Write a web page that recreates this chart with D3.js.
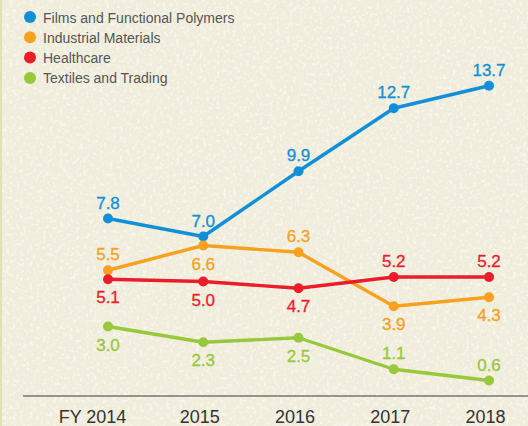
<!DOCTYPE html>
<meta charset="utf-8">
<style>
  body { margin: 0; background: #f0eddc; }
  svg { display: block; font-family: "Liberation Sans", Arial, Helvetica, sans-serif; }
</style>
<body>
<script src="https://d3js.org/d3.v7.min.js"></script>
<script>
var width = 528, height = 426;

// data
var years = ["2014", "2015", "2016", "2017", "2018"];
var tickLabels = ["FY 2014", "2015", "2016", "2017", "2018"];
var seriesNames = ["Films and Functional Polymers", "Industrial Materials", "Healthcare", "Textiles and Trading"];
var films = [7.8, 7.0, 9.9, 12.7, 13.7];
var industrial = [5.5, 6.6, 6.3, 3.9, 4.3];
var healthcare = [5.1, 5.0, 4.7, 5.2, 5.2];
var textiles = [3.0, 2.3, 2.5, 1.1, 0.6];

var colors = ["#1190d8", "#f8a11f", "#ec1d2b", "#98c83b"];
// label above (-1) or below (1) the point
var labelSide = [
  [-1, -1, -1, -1, -1],
  [-1, 1, -1, 1, 1],
  [1, 1, 1, -1, -1],
  [1, 1, 1, -1, -1]
];

var series = [films, industrial, healthcare, textiles].map(function(v, i) {
  return {name: seriesNames[i], values: v, color: colors[i], side: labelSide[i]};
});

var x = d3.scalePoint().domain(years).range([108, 489]);
var y = d3.scaleLinear().domain([0, 14]).range([394, 79]);

var svg = d3.select("body").append("svg")
    .attr("width", width)
    .attr("height", height);

// paper texture
var filt = svg.append("defs").append("filter")
    .attr("id", "paper").attr("x", 0).attr("y", 0).attr("width", "100%").attr("height", "100%");
filt.append("feTurbulence")
    .attr("type", "fractalNoise").attr("baseFrequency", 0.3).attr("numOctaves", 2).attr("seed", 4);
filt.append("feColorMatrix")
    .attr("type", "matrix")
    .attr("values", "0 0 0 0 1  0 0 0 0 1  0 0 0 0 0.96  5 0 0 0 -2.6");

svg.append("rect").attr("width", width).attr("height", height).attr("fill", "#f0eddc");
svg.append("rect").attr("width", width).attr("height", height)
    .attr("filter", "url(#paper)").attr("opacity", 0.55);
svg.append("rect").attr("width", 2).attr("height", height).attr("fill", "#e3dfb6");

// axis
svg.append("line")
    .attr("x1", 23).attr("x2", width)
    .attr("y1", 396).attr("y2", 396)
    .attr("stroke", "#3a3a3a").attr("stroke-width", 1.2);

var xAxis = svg.append("g")
    .attr("transform", "translate(0,396)")
    .call(d3.axisBottom(x).tickSize(0).tickPadding(14)
      .tickFormat(function(d, i) { return tickLabels[i]; }));
xAxis.attr("font-family", null).attr("font-size", null);
xAxis.select(".domain").remove();
xAxis.selectAll("text")
    .attr("font-size", 18)
    .attr("fill", "#333")
    .attr("dx", function(d, i) { return i === 0 ? -16 : -4; });

var line = d3.line()
    .x(function(d, i) { return x(years[i]); })
    .y(function(d) { return y(d); });

var g = svg.selectAll(".series").data(series).enter().append("g");

g.append("path")
    .attr("d", function(d) { return line(d.values); })
    .attr("fill", "none")
    .attr("stroke", function(d) { return d.color; })
    .attr("stroke-width", 3.4)
    .attr("stroke-linejoin", "round");

g.selectAll("circle")
    .data(function(d) { return d.values.map(function(v, i) { return {v: v, i: i, s: d}; }); })
    .enter().append("circle")
    .attr("cx", function(d) { return x(years[d.i]); })
    .attr("cy", function(d) { return y(d.v); })
    .attr("r", 5)
    .attr("fill", function(d) { return d.s.color; });

g.selectAll("text")
    .data(function(d) { return d.values.map(function(v, i) { return {v: v, i: i, s: d}; }); })
    .enter().append("text")
    .attr("x", function(d) { return x(years[d.i]); })
    .attr("y", function(d) { return y(d.v) + (d.s.side[d.i] < 0 ? -10 : 24); })
    .attr("text-anchor", "middle")
    .attr("font-size", 17)
    .attr("fill", function(d) { return d.s.color; })
    .attr("stroke", function(d) { return d.s.color; })
    .attr("stroke-width", 0.3)
    .text(function(d) { return d.v.toFixed(1); });

// legend
var legend = svg.append("g").selectAll("g").data(series).enter().append("g")
    .attr("transform", function(d, i) { return "translate(0," + (i * 20.3) + ")"; });
legend.append("circle")
    .attr("cx", 30).attr("cy", 17).attr("r", 6)
    .attr("fill", function(d) { return d.color; });
legend.append("text")
    .attr("x", 43).attr("y", 22.5)
    .attr("font-size", 14)
    .attr("fill", "#555")
    .text(function(d) { return d.name; });
</script>
</body>
